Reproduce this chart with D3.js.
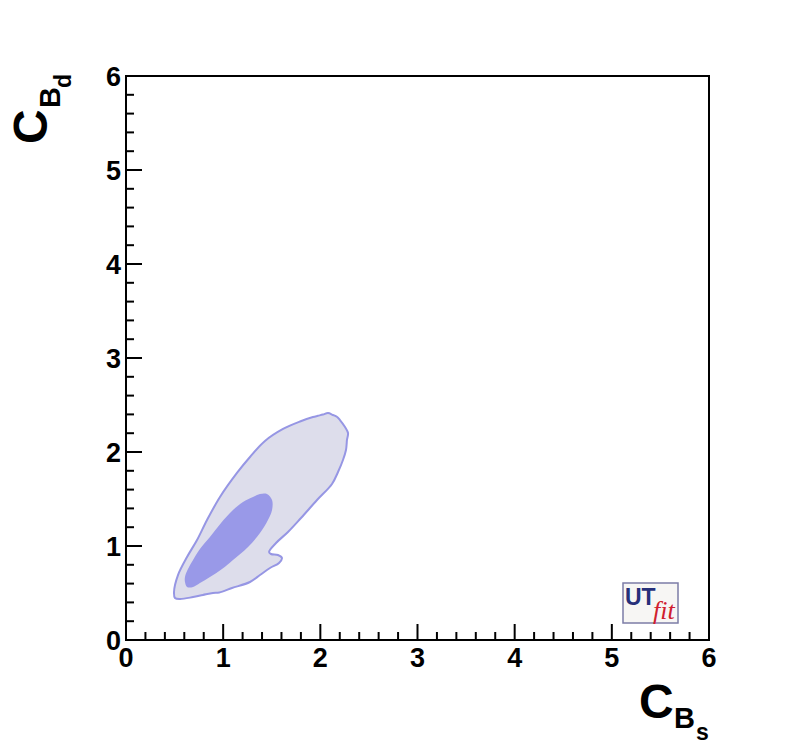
<!DOCTYPE html>
<html>
<head>
<meta charset="utf-8">
<script src="https://cdn.jsdelivr.net/npm/d3@7"></script>
<style>
  html, body { margin: 0; padding: 0; background: #fff; }
  svg { display: block; }
  text { font-family: "Liberation Sans", Arial, Helvetica, sans-serif; font-weight: bold; }
</style>
</head>
<body>
<svg id="chart" width="788" height="754"></svg>
<script>
// ---- data ----
const xDomain = [0, 6];
const yDomain = [0, 6];
const majorTicks = [0, 1, 2, 3, 4, 5, 6];
const tickLabels = ["0", "1", "2", "3", "4", "5", "6"];

// 95% probability region (outer contour) in (C_Bs, C_Bd)
const outerX = [0.494, 0.535, 0.628, 0.731, 0.834, 0.967, 1.142, 1.276, 1.430, 1.616, 1.791, 1.924, 1.975, 2.027, 2.079, 2.130, 2.170, 2.202, 2.254, 2.285, 2.274, 2.270, 2.264, 2.233, 2.182, 2.120, 1.966, 1.801, 1.667, 1.544, 1.472, 1.492, 1.564, 1.605, 1.575, 1.482, 1.379, 1.276, 1.091, 0.960, 0.895, 0.792, 0.690, 0.556, 0.504];
const outerY = [0.511, 0.691, 0.883, 1.064, 1.277, 1.521, 1.777, 1.947, 2.117, 2.245, 2.325, 2.372, 2.385, 2.398, 2.415, 2.394, 2.375, 2.340, 2.266, 2.202, 2.128, 2.075, 2.021, 1.915, 1.787, 1.660, 1.489, 1.298, 1.149, 1.032, 0.936, 0.915, 0.904, 0.872, 0.819, 0.766, 0.691, 0.617, 0.553, 0.505, 0.500, 0.479, 0.457, 0.436, 0.447];

// 68% probability region (inner contour)
const innerX = [1.451, 1.503, 1.503, 1.461, 1.379, 1.256, 1.101, 0.988, 0.864, 0.761, 0.690, 0.628, 0.607, 0.607, 0.638, 0.690, 0.761, 0.864, 0.978, 1.101, 1.204, 1.307, 1.379];
const innerY = [1.553, 1.489, 1.383, 1.277, 1.138, 0.989, 0.851, 0.755, 0.670, 0.606, 0.564, 0.564, 0.617, 0.670, 0.755, 0.851, 0.968, 1.096, 1.245, 1.383, 1.468, 1.521, 1.553];

// ---- layout ----
const svg = d3.select("#chart");
const L = 126, R = 709, T = 76, B = 640;
const x = d3.scaleLinear().domain(xDomain).range([L, R]);
const y = d3.scaleLinear().domain(yDomain).range([B, T]);

const outer = outerX.map((v, i) => [v, outerY[i]]);
const inner = innerX.map((v, i) => [v, innerY[i]]);
const line = d3.line().x(d => x(d[0])).y(d => y(d[1])).curve(d3.curveCatmullRomClosed.alpha(0.5));

svg.append("path").attr("d", line(outer))
  .attr("fill", "rgb(221,221,235)")
  .attr("stroke", "rgb(150,150,228)")
  .attr("stroke-width", 2);
svg.append("path").attr("d", line(inner))
  .attr("fill", "rgb(153,153,232)")
  .attr("stroke", "none");

// frame
svg.append("rect").attr("x", L).attr("y", T).attr("width", R - L).attr("height", B - T)
  .attr("fill", "none").attr("stroke", "#000").attr("stroke-width", 2);

// ticks
const minor = d3.range(0, 30).map(i => i * 0.2).filter(v => Math.abs(v - Math.round(v)) > 1e-6);
const g = svg.append("g").attr("stroke", "#000").attr("stroke-width", 2);
majorTicks.forEach(v => {
  g.append("line").attr("x1", x(v)).attr("x2", x(v)).attr("y1", B).attr("y2", B - 16);
  g.append("line").attr("y1", y(v)).attr("y2", y(v)).attr("x1", L).attr("x2", L + 16);
});
minor.forEach(v => {
  g.append("line").attr("x1", x(v)).attr("x2", x(v)).attr("y1", B).attr("y2", B - 8);
  g.append("line").attr("y1", y(v)).attr("y2", y(v)).attr("x1", L).attr("x2", L + 8);
});

// tick labels
majorTicks.forEach((v, i) => {
  svg.append("text").attr("x", x(v)).attr("y", B + 27)
    .attr("text-anchor", "middle").attr("font-size", 27).text(tickLabels[i]);
  svg.append("text").attr("x", L - 5).attr("y", y(v) + 10)
    .attr("text-anchor", "end").attr("font-size", 27).text(tickLabels[i]);
});

// x title: C_{B_s}
svg.append("text").attr("x", 639).attr("y", 718).attr("font-size", 48).text("C");
svg.append("text").attr("x", 674).attr("y", 728).attr("font-size", 29).text("B");
svg.append("text").attr("x", 696).attr("y", 740).attr("font-size", 23).text("s");

// y title: C_{B_d} rotated
const yt = svg.append("g").attr("transform", "translate(47,144) rotate(-90)");
yt.append("text").attr("x", 0).attr("y", 0).attr("font-size", 48).text("C");
yt.append("text").attr("x", 36).attr("y", 13).attr("font-size", 29).text("B");
yt.append("text").attr("x", 56).attr("y", 24).attr("font-size", 23).text("d");

// UTfit logo
const lg = svg.append("g");
lg.append("rect").attr("x", 623).attr("y", 583).attr("width", 55).attr("height", 40)
  .attr("fill", "#f7f6f4").attr("stroke", "#7c7ca6").attr("stroke-width", 1.5);
lg.append("text").attr("x", 625).attr("y", 605)
  .style("font-family", "'Liberation Sans Narrow', 'Liberation Sans', Arial, sans-serif")
  .style("font-size", "23px").style("font-weight", "bold")
  .attr("fill", "#27307a").text("UT");
lg.append("text").attr("x", 653).attr("y", 619)
  .style("font-family", "'Liberation Serif', 'DejaVu Serif', serif")
  .style("font-size", "26px").style("font-style", "italic").style("font-weight", "normal")
  .attr("fill", "#d0202e").text("fit");
</script>
</body>
</html>
